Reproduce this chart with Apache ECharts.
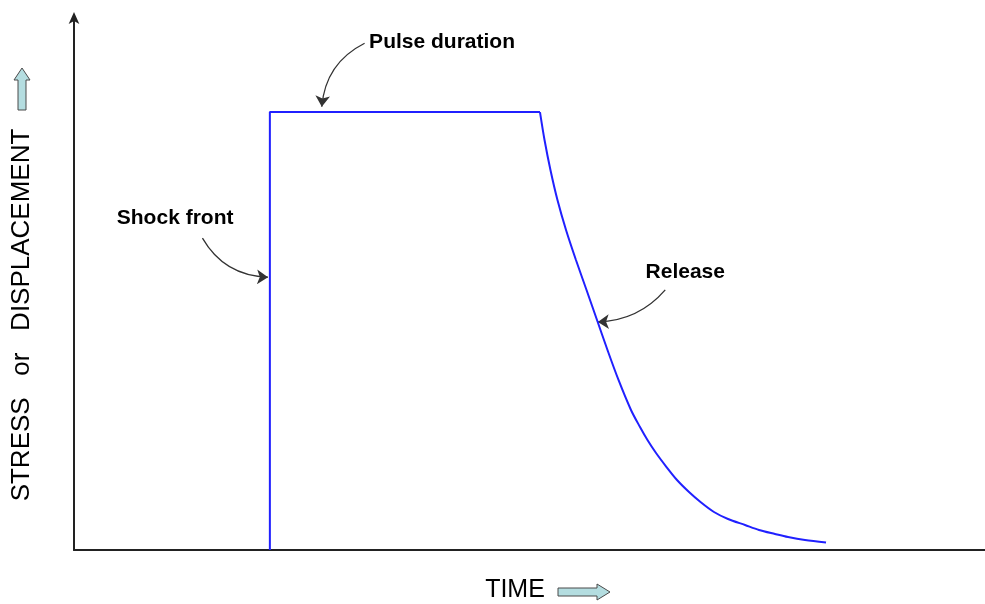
<!DOCTYPE html>
<html>
<head>
<meta charset="utf-8">
<script src="https://cdn.jsdelivr.net/npm/echarts@6/dist/echarts.min.js"></script>
<style>
html,body{margin:0;padding:0;background:#fff;}
#chart{width:985px;height:604px;}
</style>
</head>
<body>
<div id="chart"></div>
<script>
// Pulse (shock front + plateau): [time, stress]
const pulseData = [[21.5, 0], [21.5, 82.0], [51.15, 82.0]];
// Release curve: [time, stress]
const releaseData = [
  [51.15, 82.0], [51.65, 76.78], [52.3, 71.16], [53.07, 65.54], [54.01, 59.93],
  [55.1, 54.31], [56.26, 48.69], [57.41, 43.07], [58.56, 37.45], [59.77, 31.84],
  [61.14, 26.22], [62.13, 23.03], [62.95, 20.6], [63.89, 18.16], [65.04, 15.54],
  [66.19, 13.11], [67.51, 10.86], [68.77, 8.99], [70.25, 7.12], [71.79, 5.81],
  [73.66, 4.68], [75.19, 3.75], [76.95, 3.0], [78.38, 2.43], [80.24, 1.87],
  [82.55, 1.4]
];
// Annotations
const annotationNames = ['Pulse duration', 'Shock front', 'Release'];
const annotationTextPos = [[40.4, 95.1], [11.1, 62.2], [67.1, 52.1]];
const arrowStart = [[31.9, 94.9], [14.1, 58.4], [64.9, 48.7]];
const arrowEnd = [[27.2, 83.0], [21.3, 51.1], [57.5, 42.7]];
const arrowCurve = [-0.28, -0.28, 0.22];
const yTitle = 'STRESS   or   DISPLACEMENT';
const xTitle = 'TIME';

const chart = echarts.init(document.getElementById('chart'));
const lineColor = '#2020ff';
const font = 'Liberation Sans, Arial, sans-serif';

const option = {
  animation: false,
  backgroundColor: '#fff',
  grid: {left: 74, right: 0, top: 16, bottom: 54, containLabel: false},
  xAxis: {
    type: 'value', min: 0, max: 100,
    axisLine: {show: true, onZero: false, lineStyle: {color: '#222', width: 2}},
    axisTick: {show: false}, axisLabel: {show: false}, splitLine: {show: false}
  },
  yAxis: {
    type: 'value', min: 0, max: 100,
    axisLine: {show: true, onZero: false, symbol: ['none', 'arrow'], symbolSize: [8, 12], symbolOffset: [0, 4],
      lineStyle: {color: '#222', width: 2}},
    axisTick: {show: false}, axisLabel: {show: false}, splitLine: {show: false}
  },
  series: [
    {
      type: 'line', data: pulseData, smooth: false, symbol: 'none',
      lineStyle: {color: lineColor, width: 2}, silent: true
    },
    {
      type: 'line', data: releaseData, smooth: 0.3, symbol: 'none',
      lineStyle: {color: lineColor, width: 2}, silent: true
    },
    {
      type: 'lines', coordinateSystem: 'cartesian2d', silent: true,
      symbol: ['none', 'arrow'], symbolSize: [9, 11],
      lineStyle: {color: '#333', width: 1.3, opacity: 1},
      data: arrowStart.map((s, i) => ({
        coords: [s, arrowEnd[i]],
        lineStyle: {curveness: arrowCurve[i], color: '#333', width: 1.3}
      }))
    },
    {
      type: 'scatter', symbolSize: 0, silent: true,
      itemStyle: {opacity: 1},
      data: annotationNames.map((n, i) => ({name: n, value: annotationTextPos[i]})),
      label: {
        show: true, position: 'inside', formatter: p => p.name,
        fontFamily: font, fontWeight: 'bold', fontSize: 21, color: '#000'
      }
    }
  ],
  graphic: [
    {
      type: 'text', x: 22, y: 315, rotation: Math.PI / 2,
      style: {text: yTitle, fontFamily: font, fontSize: 26, fill: '#000',
        textAlign: 'center', textVerticalAlign: 'middle'}
    },
    {
      type: 'text', x: 515, y: 590,
      style: {text: xTitle, fontFamily: font, fontSize: 25, fill: '#000',
        textAlign: 'center', textVerticalAlign: 'middle'}
    },
    {
      type: 'polygon',
      shape: {points: [[22, 68], [30, 80], [26, 80], [26, 110], [18, 110], [18, 80], [14, 80]]},
      style: {fill: '#b4dde0', stroke: '#4a4a4a', lineWidth: 1}
    },
    {
      type: 'polygon',
      shape: {points: [[610, 592], [597, 584], [597, 588], [558, 588], [558, 596], [597, 596], [597, 600]]},
      style: {fill: '#b4dde0', stroke: '#4a4a4a', lineWidth: 1}
    }
  ]
};
chart.setOption(option);
</script>
</body>
</html>
